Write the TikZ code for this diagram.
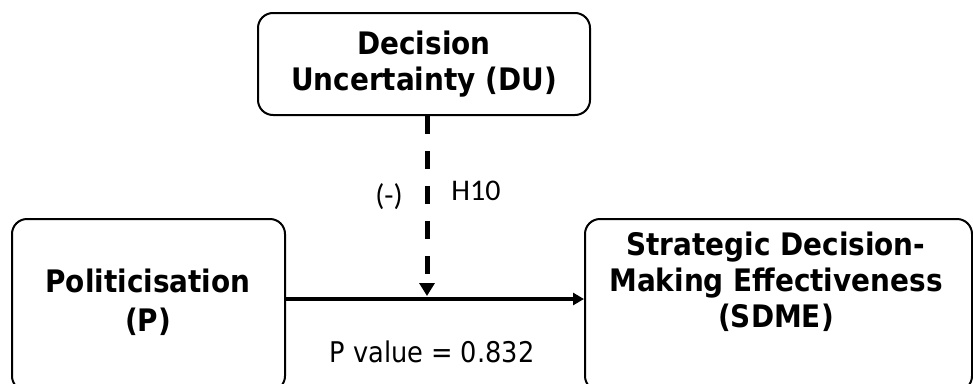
\documentclass[tikz,border=0pt]{standalone}
\usepackage{fontspec}
\setmainfont{DejaVu Sans Condensed}[BoldFont={DejaVu Sans Condensed Bold}]
\newfontfamily\labelfont{Carlito}
\usetikzlibrary{arrows.meta}

\begin{document}
\begin{tikzpicture}[x=1pt, y=1pt,
  main/.style = {draw, rounded corners=15pt, line width=2pt, inner sep=0pt},
  boxtext/.style = {align=center, font=\fontsize{31}{36}\selectfont\bfseries},
  note/.style = {font=\labelfont\fontsize{30}{36}\selectfont}]
  \useasboundingbox (0,0) rectangle (973,-383);

  \node[main, minimum width=332, minimum height=102] (DU) at (424,-64) {};
  \node[boxtext] (DUtext) at (DU.center) {Decision\\Uncertainty (DU)};
  \node[main, minimum width=273, minimum height=172] (P) at (148.5,-305) {};
  \node[boxtext, font=\fontsize{31}{39}\selectfont\bfseries] (Ptext) at (148,-302) {Politicisation\\(P)};
  \node[main, minimum width=387, minimum height=172] (SDME) at (778.5,-305) {};
  \node[boxtext] (SDMEtext) at (776,-282) {Strategic Decision-\\Making Effectiveness\\(SDME)};
  \coordinate (m) at (427,-299);

  \draw[line width=4pt, -{Triangle[width=12pt, length=11pt]}] (P.east |- m) -- (SDME.west |- m);
  \draw[line width=5pt, dash pattern=on 18pt off 17pt, -{Triangle[width=15pt, length=13pt]}] (DU.south -| m) -- ([yshift=3pt]m);

  \node[note] (sign) at (389,-197) {(-)};
  \node[note] (hyp) at (476,-191) {H10};
  \node[font=\fontsize{28.5}{34}\selectfont] (pval) at (432,-352) {P value = 0.832};
\end{tikzpicture}
\end{document}
